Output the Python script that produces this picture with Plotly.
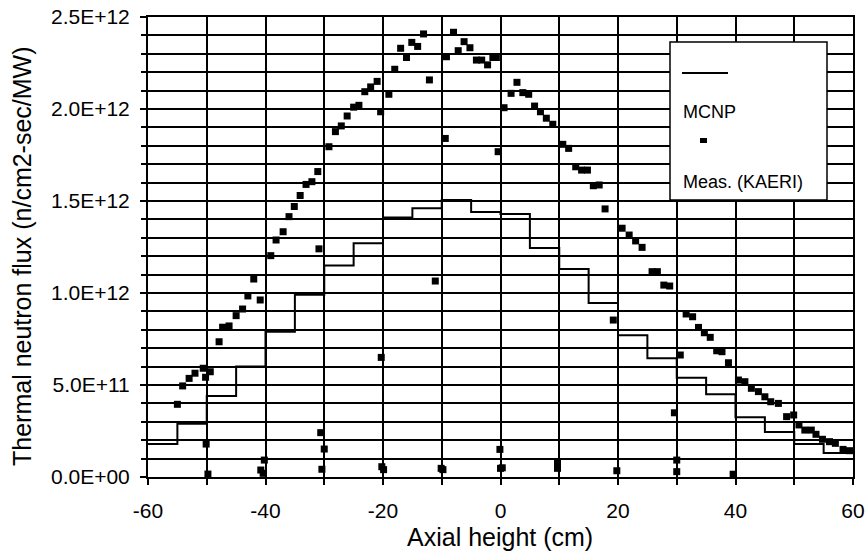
import plotly.graph_objects as go

# MCNP calculated flux (1E12 n/cm2-sec/MW), 5 cm bins from -60 to 60
mcnp_edges = [-60, -55, -50, -45, -40, -35, -30, -25, -20, -15, -10, -5,
              0, 5, 10, 15, 20, 25, 30, 35, 40, 45, 50, 55, 60]
mcnp_vals = [0.18, 0.29, 0.44, 0.60, 0.79, 0.99, 1.15, 1.27, 1.41, 1.46, 1.505, 1.44,
             1.43, 1.245, 1.13, 0.945, 0.77, 0.645, 0.54, 0.45, 0.325, 0.245, 0.18, 0.13]

# Measured flux (KAERI), 1E12 n/cm2-sec/MW
meas_x = [-55.0, -54.1, -53.0, -52.0, -50.6, -50.2, -50.1, -49.8, -49.4, -47.9,
          -47.3, -46.2, -45.0, -43.9, -43.0, -42.0, -40.9, -40.8, -40.4, -40.2,
          -39.1, -38.2, -37.0, -36.0, -35.1, -34.1, -33.1, -32.1, -31.1, -30.9,
          -30.6, -30.4, -30.0, -29.2, -28.1, -27.1, -26.1, -25.0, -24.1, -23.1,
          -22.1, -21.0, -20.4, -20.3, -20.2, -19.9, -19.0, -18.0, -17.0, -16.0,
          -15.1, -14.1, -13.1, -12.1, -11.1, -10.1, -9.8, -9.4, -9.2, -8.0,
          -7.2, -6.2, -5.2, -4.1, -3.2, -2.2, -1.3, -0.7, -0.4, -0.1,
          0.0, 0.3, 0.6, 1.8, 2.8, 3.8, 4.8, 5.8, 6.8, 7.8,
          8.9, 9.7, 9.7, 10.6, 11.6, 12.8, 13.8, 14.8, 15.8, 16.8,
          17.8, 19.2, 19.8, 20.7, 21.9, 23.0, 24.1, 25.8, 26.7, 27.8,
          28.8, 29.6, 30.0, 30.0, 30.6, 31.6, 32.7, 33.7, 34.7, 35.7,
          36.8, 37.7, 38.8, 39.6, 40.5, 41.6, 42.7, 43.9, 45.0, 46.0,
          47.3, 48.7, 49.9, 50.8, 51.8, 52.9, 53.7, 54.8, 56.0, 57.0,
          58.3, 59.4]
meas_y = [0.395, 0.495, 0.536, 0.564, 0.591, 0.542, 0.179, 0.016, 0.572, 0.735,
          0.814, 0.821, 0.877, 0.913, 0.984, 1.076, 0.962, 0.038, 0.020, 0.092,
          1.203, 1.288, 1.333, 1.415, 1.470, 1.530, 1.590, 1.605, 1.660, 1.240,
          0.241, 0.042, 0.152, 1.795, 1.877, 1.908, 1.962, 2.010, 2.020, 2.094,
          2.120, 2.150, 1.985, 0.650, 0.056, 0.040, 2.080, 2.216, 2.330, 2.280,
          2.362, 2.340, 2.408, 2.158, 1.065, 0.047, 0.040, 1.840, 2.284, 2.417,
          2.317, 2.366, 2.333, 2.266, 2.266, 2.240, 2.280, 2.280, 1.768, 0.150,
          0.047, 0.050, 2.007, 2.085, 2.145, 2.089, 2.080, 2.016, 1.985, 1.950,
          1.917, 0.083, 0.047, 1.808, 1.786, 1.686, 1.668, 1.668, 1.583, 1.587,
          1.457, 0.853, 0.034, 1.352, 1.315, 1.283, 1.248, 1.116, 1.116, 1.043,
          1.038, 0.349, 0.092, 0.029, 0.663, 0.886, 0.871, 0.813, 0.784, 0.759,
          0.686, 0.681, 0.621, 0.015, 0.527, 0.518, 0.482, 0.464, 0.436, 0.409,
          0.400, 0.328, 0.337, 0.283, 0.255, 0.255, 0.232, 0.205, 0.192, 0.183,
          0.150, 0.143]

y_tickvals = [0, 0.5e12, 1.0e12, 1.5e12, 2.0e12, 2.5e12]
y_ticktext = ["0.0E+00", "5.0E+11", "1.0E+12", "1.5E+12", "2.0E+12", "2.5E+12"]
x_tickvals = [-60, -40, -20, 0, 20, 40, 60]

FONT = "Liberation Sans, Arial, sans-serif"
L, R, T, B = 148, 14, 17, 77
PW = 867 - L - R
PH = 554 - T - B

step_x = mcnp_edges
step_y = [v * 1e12 for v in mcnp_vals] + [mcnp_vals[-1] * 1e12]

fig = go.Figure()
fig.add_trace(go.Scatter(x=step_x, y=step_y, mode="lines", line_shape="hv",
                         line=dict(color="black", width=2), name="MCNP",
                         showlegend=False))
fig.add_trace(go.Scatter(x=meas_x, y=[v * 1e12 for v in meas_y], mode="markers",
                         marker=dict(symbol="square", size=7, color="black"),
                         name="Meas. (KAERI)", showlegend=False))

fig.update_layout(
    template="none",
    width=867, height=554,
    margin=dict(l=L, r=R, t=T, b=B, autoexpand=False),
    paper_bgcolor="white", plot_bgcolor="white",
    font=dict(family=FONT, color="black", size=21),
    showlegend=False,
)
fig.update_xaxes(
    range=[-60, 60], tickvals=x_tickvals, ticktext=[str(v) for v in x_tickvals],
    showgrid=True, gridcolor="black", gridwidth=1.5, automargin=False,
    showline=True, linecolor="black", linewidth=2, mirror=True,
    ticks="outside", ticklen=6, tickcolor="black", tickwidth=1.5,
    tickfont=dict(size=21), zeroline=False, ticklabelstandoff=8,
    ticklabeloverflow="allow",
    minor=dict(dtick=10, tick0=0, showgrid=True, gridcolor="black", gridwidth=1.5,
               ticks="outside", ticklen=6, tickcolor="black", tickwidth=1.5),
)
fig.update_yaxes(
    range=[0, 2.5e12], tickvals=y_tickvals, ticktext=y_ticktext,
    showgrid=True, gridcolor="black", gridwidth=1.5, automargin=False,
    showline=True, linecolor="black", linewidth=2, mirror=True,
    ticks="outside", ticklen=6, tickcolor="black", tickwidth=1.5,
    tickfont=dict(size=21), zeroline=False, ticklabelstandoff=6,
    ticklabeloverflow="allow",
    minor=dict(dtick=1e11, tick0=0, showgrid=True, gridcolor="black", gridwidth=1.5,
               ticks="outside", ticklen=5, tickcolor="black", tickwidth=1.5),
)

def px(xp):
    return (xp - L) / PW

def py(yp):
    return (554 - B - yp) / PH

# axis titles
fig.add_annotation(text="Axial height (cm)", xref="paper", yref="paper",
                   x=px(500), y=py(537), showarrow=False,
                   xanchor="center", yanchor="middle", font=dict(size=25))
fig.add_annotation(text="Thermal neutron flux (n/cm2-sec/MW)", xref="paper", yref="paper",
                   x=px(22), y=py(256), showarrow=False,
                   textangle=-90, xanchor="center", yanchor="middle", font=dict(size=25))

# legend box (drawn)
fig.add_shape(type="rect", xref="paper", yref="paper",
              x0=px(670), x1=px(827), y0=py(200), y1=py(42),
              fillcolor="white", line=dict(color="black", width=1.5), layer="above")
fig.add_shape(type="line", xref="paper", yref="paper",
              x0=px(682), x1=px(728), y0=py(73), y1=py(73),
              line=dict(color="black", width=2), layer="above")
fig.add_shape(type="rect", xref="paper", yref="paper",
              x0=px(700), x1=px(707), y0=py(143), y1=py(138),
              fillcolor="black", line=dict(color="black", width=0), layer="above")
fig.add_annotation(text="MCNP", xref="paper", yref="paper", x=px(681), y=py(112),
                   xanchor="left", yanchor="middle", showarrow=False, font=dict(size=18))
fig.add_annotation(text="Meas. (KAERI)", xref="paper", yref="paper", x=px(681), y=py(182),
                   xanchor="left", yanchor="middle", showarrow=False, font=dict(size=18))

fig.write_html("out.html")
